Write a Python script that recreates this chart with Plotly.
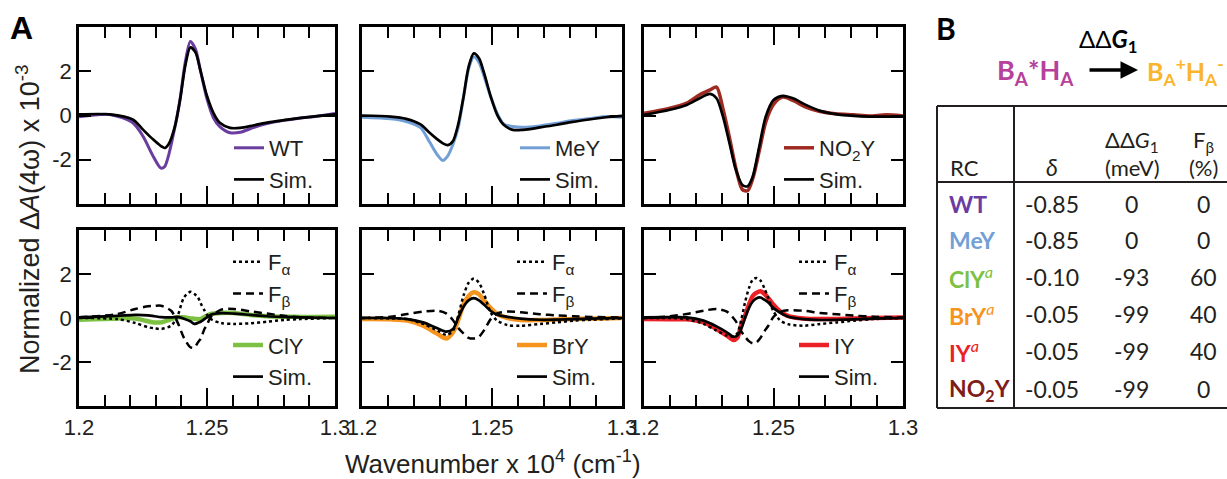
import plotly.graph_objects as go

W, H = 1227, 479

# ---------------- Panel data (wavenumber x 10^4 cm^-1, normalized dA x 10^-3) -------------
x_wt = [1.200, 1.212, 1.221, 1.225, 1.229, 1.232, 1.2335, 1.235, 1.2375, 1.2395, 1.2415, 1.2435,
        1.2455, 1.2475, 1.250, 1.2525, 1.255, 1.259, 1.263, 1.268, 1.273, 1.280, 1.286, 1.293, 1.300]
wt_data = [-0.06, 0.05, -0.33, -0.94, -1.85, -2.38, -2.3, -1.8, -0.5, 0.75, 2.4, 3.35,
           3.0, 2.0, 0.75, -0.1, -0.5, -0.78, -0.76, -0.55, -0.38, -0.22, -0.12, -0.03, 0.09]
wt_sim = [0.05, 0.05, -0.18, -0.64, -1.09, -1.38, -1.47, -1.30, -0.48, 0.73, 2.24, 3.08,
          2.85, 2.0, 0.88, 0.12, -0.33, -0.56, -0.56, -0.45, -0.33, -0.21, -0.12, -0.03, 0.05]

x_mey = [1.200, 1.211, 1.217, 1.2225, 1.226, 1.229, 1.231, 1.233, 1.235, 1.237, 1.239, 1.241, 1.243,
         1.245, 1.247, 1.2495, 1.252, 1.2545, 1.258, 1.262, 1.2685, 1.275, 1.281, 1.288, 1.294, 1.300]
mey_data = [-0.08, -0.15, -0.27, -0.55, -1.2, -1.78, -2.03, -1.82, -1.3, -0.55, 0.8, 2.1, 2.65,
            2.4, 1.75, 0.85, 0.1, -0.38, -0.5, -0.53, -0.47, -0.35, -0.23, -0.14, -0.05, -0.08]
mey_sim = [0.0, -0.05, -0.15, -0.4, -0.78, -1.08, -1.25, -1.34, -1.15, -0.4, 0.8, 2.2, 2.81,
           2.59, 1.9, 0.86, 0.03, -0.42, -0.65, -0.65, -0.54, -0.42, -0.29, -0.17, -0.08, -0.02]

x_no2 = [1.200, 1.210, 1.2165, 1.2215, 1.2255, 1.228, 1.2305, 1.233, 1.2355, 1.238, 1.240, 1.242,
         1.2445, 1.247, 1.250, 1.2535, 1.2575, 1.2625, 1.268, 1.274, 1.281, 1.287, 1.2935, 1.300]
no2_data = [0.1, 0.33, 0.56, 0.94, 1.16, 1.28, 0.3, -1.0, -2.4, -3.35, -3.4, -2.85,
            -1.6, -0.3, 0.5, 0.83, 0.68, 0.38, 0.18, 0.08, 0.03, -0.02, 0.03, -0.02]
no2_sim = [0.03, 0.26, 0.48, 0.78, 0.98, 0.78, -0.05, -1.25, -2.46, -3.14, -3.2, -2.76,
           -1.4, -0.05, 0.7, 0.89, 0.78, 0.48, 0.21, 0.06, -0.02, -0.05, -0.05, -0.05]

x_cly = [1.200, 1.215, 1.222, 1.227, 1.2295, 1.232, 1.236, 1.2385, 1.241, 1.2435, 1.245, 1.2465,
         1.2475, 1.249, 1.250, 1.2515, 1.2555, 1.2605, 1.267, 1.2735, 1.280, 1.2865, 1.300]
cly_fa = [0.0, -0.05, -0.23, -0.42, -0.47, -0.5, -0.35, 0.1, 0.93, 1.19, 1.1, 0.93,
          0.68, 0.35, 0.15, -0.05, -0.23, -0.27, -0.24, -0.17, -0.09, -0.05, 0.0]
cly_fb = [0.03, 0.18, 0.41, 0.53, 0.55, 0.56, 0.33, -0.2, -0.9, -1.33, -1.35, -1.1,
          -0.95, -0.5, -0.3, 0.05, 0.38, 0.41, 0.3, 0.2, 0.1, 0.03, 0.0]
cly_sim = [0.03, 0.1, 0.14, 0.12, 0.08, 0.04, 0.03, 0.05, -0.03, -0.15, -0.27, -0.22,
           -0.17, -0.05, 0.03, 0.15, 0.22, 0.2, 0.14, 0.08, 0.05, 0.03, 0.0]
cly_data = [-0.08, -0.02, -0.02, -0.15, -0.2, -0.2, -0.05, 0.03, 0.03, -0.02, -0.03, -0.05,
            -0.05, 0.05, 0.1, 0.18, 0.23, 0.23, 0.14, 0.08, 0.06, 0.05, 0.06]

x_bry = [1.200, 1.211, 1.2175, 1.2235, 1.229, 1.2325, 1.235, 1.237, 1.239, 1.241, 1.243, 1.245,
         1.247, 1.2495, 1.252, 1.256, 1.261, 1.2685, 1.275, 1.2815, 1.288, 1.300]
bry_fa = [0.0, -0.02, -0.05, -0.27, -0.57, -0.77, -0.57, 0.1, 1.0, 1.6, 1.79, 1.6,
          1.07, 0.25, -0.12, -0.32, -0.35, -0.27, -0.2, -0.12, -0.08, -0.02]
bry_fb = [0.0, 0.06, 0.18, 0.29, 0.33, 0.2, -0.1, -0.45, -0.7, -0.9, -0.93, -0.85,
          -0.55, -0.05, 0.21, 0.29, 0.26, 0.17, 0.12, 0.08, 0.05, 0.02]
bry_sim = [0.0, 0.0, -0.05, -0.2, -0.47, -0.62, -0.5, 0.0, 0.5, 0.8, 0.9, 0.8,
           0.6, 0.32, 0.15, 0.05, -0.03, -0.08, -0.07, -0.05, -0.03, 0.0]
bry_data = [-0.05, -0.06, -0.12, -0.35, -0.72, -0.93, -0.65, -0.1, 0.6, 1.0, 1.17, 1.08,
            0.8, 0.45, 0.18, 0.0, -0.09, -0.09, -0.07, -0.05, -0.03, 0.0]

x_iy = [1.200, 1.210, 1.2165, 1.223, 1.228, 1.232, 1.2345, 1.236, 1.2375, 1.239, 1.2405, 1.242,
        1.2435, 1.245, 1.2465, 1.248, 1.250, 1.2525, 1.2555, 1.2615, 1.268, 1.2745, 1.281, 1.2885, 1.300]
iy_fa = [0.0, 0.0, -0.05, -0.27, -0.57, -0.8, -0.83, -0.7, -0.1, 0.7, 1.35, 1.75,
         1.82, 1.7, 1.35, 0.9, 0.3, -0.1, -0.28, -0.35, -0.27, -0.2, -0.12, -0.05, 0.0]
iy_fb = [0.0, 0.08, 0.18, 0.33, 0.41, 0.29, 0.0, -0.25, -0.6, -0.85, -1.05, -1.15,
         -1.1, -0.9, -0.6, -0.35, 0.05, 0.27, 0.35, 0.33, 0.23, 0.17, 0.11, 0.06, 0.02]
iy_sim = [0.03, 0.04, 0.03, -0.12, -0.38, -0.65, -0.85, -0.8, -0.5, 0.0, 0.45, 0.75,
          0.9, 0.93, 0.83, 0.7, 0.45, 0.25, 0.07, -0.05, -0.09, -0.08, -0.06, -0.03, 0.0]
iy_data = [-0.05, -0.06, -0.06, -0.2, -0.5, -0.8, -1.0, -0.9, -0.35, 0.1, 0.6, 1.0,
           1.15, 1.22, 1.1, 0.9, 0.6, 0.3, 0.1, -0.02, -0.05, -0.04, -0.02, 0.0, 0.02]

x_tickvals = [1.2, 1.25, 1.3]
x_ticktext = ["1.2", "1.25", "1.3"]
y_tickvals = [-2, 0, 2]
y_ticktext = ["-2", "0", "2"]

# ---------------- Table (panel B) ----------------
rc_names = ["WT", "MeY", "ClY", "BrY", "IY", "NO<sub>2</sub>Y"]
rc_note = [False, False, True, True, True, False]
rc_colors = ["#6a3d9f", "#729fd6", "#7cc142", "#f7941d", "#ec2027", "#7f1d1a"]
delta = [-0.85, -0.85, -0.10, -0.05, -0.05, -0.05]
ddg1 = [0, 0, -93, -99, -99, -99]
fbeta = [0, 0, 60, 40, 40, 0]

# ---------------- Helpers ----------------
def px(x):
    return x / W

def py(y):
    return 1 - y / H

INK = "#231f20"
AX_FONT = "Liberation Sans, Arial, sans-serif"
TB_FONT = "Lato, 'Open Sans', sans-serif"

panels = [
    ((79, 335), (27, 204), False, True),
    ((362, 622), (27, 204), False, False),
    ((644, 903), (27, 204), False, False),
    ((79, 335), (230, 406), True, True),
    ((362, 622), (230, 406), True, False),
    ((644, 903), (230, 406), True, False),
]

fig = go.Figure()
layout = {}
for i, ((x0, x1), (yt, yb), showx, showy) in enumerate(panels, start=1):
    sfx = "" if i == 1 else str(i)
    layout["xaxis" + sfx] = dict(
        domain=[px(x0), px(x1)], anchor="y" + sfx, range=[1.2, 1.3],
        showline=True, linecolor="black", linewidth=2.5, mirror="ticks",
        ticks="inside", ticklen=18, tickwidth=2, tickcolor="black",
        tickmode="array", tickvals=x_tickvals, ticktext=x_ticktext,
        showticklabels=showx, tickfont=dict(family=AX_FONT, size=22, color=INK),
        minor=dict(dtick=0.01, tick0=1.2, ticks="inside", ticklen=11, tickwidth=2,
                   tickcolor="black", showgrid=False),
        showgrid=False, zeroline=False, fixedrange=True, automargin=False,
    )
    layout["yaxis" + sfx] = dict(
        domain=[py(yb), py(yt)], anchor="x" + sfx, range=[-4, 4],
        showline=True, linecolor="black", linewidth=2.5, mirror="ticks",
        ticks="inside", ticklen=12, tickwidth=2, tickcolor="black",
        tickmode="array", tickvals=y_tickvals, ticktext=y_ticktext,
        showticklabels=showy, tickfont=dict(family=AX_FONT, size=22, color=INK),
        showgrid=False, zeroline=False, fixedrange=True, automargin=False,
    )

def add(xs, ys, axis, name, color, width, dash="solid", legend="legend", group=None, rank=1000):
    sfx = "" if axis == 1 else str(axis)
    fig.add_trace(go.Scatter(
        x=xs, y=ys, mode="lines", name=name,
        line=dict(color=color, width=width, dash=dash, shape="spline", smoothing=0.8),
        xaxis="x" + sfx, yaxis="y" + sfx, legend=legend,
        legendgroup=group, legendrank=rank, hoverinfo="skip",
    ))

DOT = "3px,3px"
DASH = "8px,5px"

# top row
add(x_wt, wt_data, 1, "WT", rc_colors[0], 3, legend="legend", rank=1)
add(x_wt, wt_sim, 1, "Sim.", "black", 2.7, legend="legend", rank=2)
add(x_mey, mey_data, 2, "MeY", rc_colors[1], 3, legend="legend2", rank=1)
add(x_mey, mey_sim, 2, "Sim.", "black", 2.7, legend="legend2", rank=2)
add(x_no2, no2_data, 3, "NO<sub>2</sub>Y", "#9e2a22", 3.5, legend="legend3", rank=1)
add(x_no2, no2_sim, 3, "Sim.", "black", 2.7, legend="legend3", rank=2)

# bottom row
bottom = [
    (4, x_cly, cly_fa, cly_fb, cly_data, cly_sim, "ClY", rc_colors[2], "legend4"),
    (5, x_bry, bry_fa, bry_fb, bry_data, bry_sim, "BrY", rc_colors[3], "legend5"),
    (6, x_iy, iy_fa, iy_fb, iy_data, iy_sim, "IY", rc_colors[4], "legend6"),
]
for ax, xs, fa, fb, dat, sim, nm, col, lg in bottom:
    add(xs, dat, ax, nm, col, 4.5, legend=lg, group="b", rank=3)
    add(xs, fa, ax, "F<sub>α</sub>", "black", 2.5, dash=DOT, legend=lg, group="a", rank=1)
    add(xs, fb, ax, "F<sub>β</sub>", "black", 2.5, dash=DASH, legend=lg, group="a", rank=2)
    add(xs, sim, ax, "Sim.", "black", 2.7, legend=lg, group="b", rank=4)

def leg(xk, ytop, gap=0):
    return dict(x=px(xk - 8), y=py(ytop), xanchor="left", yanchor="top",
                bgcolor="rgba(0,0,0,0)", borderwidth=0, itemwidth=30,
                font=dict(family=AX_FONT, size=22, color=INK),
                traceorder="grouped" if gap else "normal", tracegroupgap=gap,
                itemclick=False, itemdoubleclick=False)

layout["legend"] = leg(237, 127)
layout["legend2"] = leg(523, 127)
layout["legend3"] = leg(787, 127)
layout["legend4"] = leg(236, 241, gap=20)
layout["legend5"] = leg(520, 241, gap=20)
layout["legend6"] = leg(802, 241, gap=20)

ann = []
def A(x, y, text, size, color=INK, family=AX_FONT, xanchor="center", yanchor="middle", **kw):
    d = dict(x=px(x), y=py(y), text=text, showarrow=False, xref="paper", yref="paper",
             xanchor=xanchor, yanchor=yanchor,
             font=dict(family=family, size=size, color=color))
    d.update(kw)
    ann.append(d)

# panel letters
A(21, 28, "<b>A</b>", 32, color="black")
A(946, 28, "<b>B</b>", 30, color="black", family=TB_FONT)
# axis titles
A(28, 219, "Normalized Δ<i>A</i>(4ω) x 10<sup>-3</sup>", 27, textangle=-90)
A(493, 462, "Wavenumber x 10<sup>4</sup> (cm<sup>-1</sup>)", 26)

# reaction scheme
A(1035, 71, "<b>B<sub>A</sub>*H<sub>A</sub></b>", 27, color="#b6409a", family=TB_FONT)
A(1145, 71, "<b>B<sub>A</sub><sup>+</sup>H<sub>A</sub><sup>-</sup></b>", 25, color="#fbb52c",
  family=TB_FONT, xanchor="left")
A(1108, 41, "ΔΔ<b><i>G</i><sub>1</sub></b>", 24, color="black", family=TB_FONT)
ann.append(dict(x=px(1138), y=py(70), ax=-50, ay=0, text="", showarrow=True,
                arrowhead=2, arrowsize=1, arrowwidth=3.5, arrowcolor="black",
                standoff=0, startstandoff=0, xref="paper", yref="paper"))

# table header
hdr_y1, hdr_y2 = 141, 167
A(948, hdr_y2, "RC", 22, family=TB_FONT, xanchor="left")
A(1052, hdr_y2, "<i>δ</i>", 23, family=TB_FONT)
A(1132, hdr_y1, "ΔΔ<i>G</i><sub>1</sub>", 22, family=TB_FONT)
A(1132, hdr_y2, "(meV)", 22, family=TB_FONT)
A(1203, hdr_y1, "F<sub>β</sub>", 22, family=TB_FONT)
A(1203, hdr_y2, "(%)", 22, family=TB_FONT)

row_y = [204, 240, 277, 314, 351, 389]
for name, note, col, d, g, f, yy in zip(rc_names, rc_note, rc_colors, delta, ddg1, fbeta, row_y):
    label = "<b>" + name + "</b>" + ("<sup><i>a</i></sup>" if note else "")
    A(947, yy, label, 23, color=col, family=TB_FONT, xanchor="left")
    A(1052, yy, f"{d:.2f}", 23, family=TB_FONT)
    A(1131, yy, f"{g:d}", 23, family=TB_FONT)
    A(1203, yy, f"{f:d}", 23, family=TB_FONT)

shapes = []
line_style = dict(color="#231f20", width=2)
for (xa, ya, xb, yb) in [(937, 106, 1227, 106), (937, 182, 1227, 182), (937, 408, 1227, 408),
                         (937, 106, 937, 408), (1014, 106, 1014, 408)]:
    shapes.append(dict(type="line", xref="paper", yref="paper",
                       x0=px(xa), y0=py(ya), x1=px(xb), y1=py(yb), line=line_style))

fig.update_layout(
    width=W, height=H, margin=dict(l=0, r=0, t=0, b=0, autoexpand=False),
    paper_bgcolor="white", plot_bgcolor="white",
    annotations=ann, shapes=shapes, showlegend=True, hovermode=False,
    **layout,
)

fig.write_html("out.html", config={"displayModeBar": False})
